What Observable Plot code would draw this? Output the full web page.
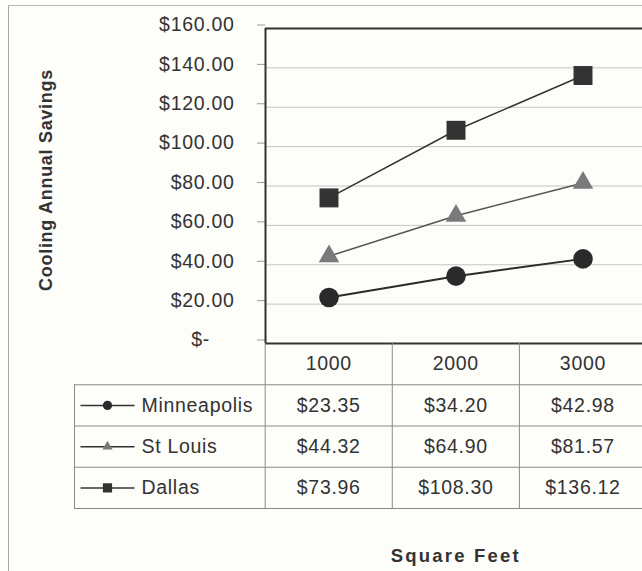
<!DOCTYPE html>
<html>
<head>
<meta charset="utf-8">
<script src="https://cdn.jsdelivr.net/npm/d3@7"></script>
<script src="https://cdn.jsdelivr.net/npm/@observablehq/plot@0.6"></script>
<style>
  html, body { margin: 0; padding: 0; background: #fdfdfa; }
  #wrap { position: relative; width: 642px; height: 571px; overflow: hidden; background: #fdfdfa; }
  #outer { position: absolute; left: 8px; top: 5px; width: 700px; height: 600px;
           border-left: 1.5px solid #a8a8a8; border-top: 1.5px solid #b8b8b8; }
  #chart { position: absolute; left: 0; top: 0; }
  #table { position: absolute; left: 0; top: 343px; }
  svg { overflow: visible; }
</style>
</head>
<body>
<div id="wrap">
  <div id="outer"></div>
  <div id="chart"></div>
  <div id="table"></div>
</div>
<script>
// ---- data ----
const sqft = [1000, 2000, 3000];
const seriesNames = ["Minneapolis", "St Louis", "Dallas"];
const minneapolis = [23.35, 34.20, 42.98];
const stLouis = [44.32, 64.90, 81.57];
const dallas = [73.96, 108.30, 136.12];
const yTicks = [0, 20, 40, 60, 80, 100, 120, 140, 160];
const yLabel = "Cooling Annual Savings";
const xLabel = "Square Feet";

// ---- derived ----
const seriesValues = [minneapolis, stLouis, dallas];
const rows = seriesNames.flatMap((name, k) =>
  seriesValues[k].map((v, i) => ({series: name, k, sqft: sqft[i], value: v})));
const step = sqft[1] - sqft[0];
const half = step / 2;
const money = v => "$" + v.toFixed(2);
const tickFmt = v => v === 0 ? "$-\u00a0\u00a0\u00a0\u00a0" : money(v);

const ink = "#333";
const symbols = ["circle", "triangle", "square"];
const fills = ["#2a2a2a", "#7a7a7a", "#333333"];
const lineStrokes = ["#2a2a2a", "#555", "#333"];
const dotR = [9.8, 7.6, 10.7];
const legendR = [4.6, 3.8, 5.2];

const font = {fontFamily: "'Liberation Sans', Arial, sans-serif", fontSize: "19.5px", letterSpacing: "0.7px", color: ink, background: "transparent"};

// ---- chart ----
const chartMarks = [
  Plot.gridY(yTicks.filter(t => t > 0 && t < 160), {stroke: "#c4c4c4", strokeOpacity: 1}),
  Plot.axisY({ticks: yTicks, tickFormat: tickFmt, tickSize: 8, tickPadding: 23, stroke: "#9a9a9a", fill: ink, dy: -3.5, label: null}),
  Plot.axisY({ticks: [], tickSize: 0, label: yLabel, labelAnchor: "center", labelOffset: 226, labelArrow: "none", fill: ink}),
  Plot.ruleY([0, 160], {stroke: ink, strokeWidth: 2}),
  Plot.ruleX([sqft[0] - half], {stroke: ink, strokeWidth: 2})
];
seriesNames.forEach((name, k) => {
  const data = rows.filter(d => d.k === k);
  chartMarks.push(Plot.line(data, {x: "sqft", y: "value", stroke: lineStrokes[k], strokeWidth: k === 0 ? 2 : 1.5}));
  chartMarks.push(Plot.dot(data, {x: "sqft", y: "value", symbol: symbols[k], r: dotR[k], fill: fills[k], stroke: "none"}));
});

const chart = Plot.plot({
  width: 642, height: 346,
  marginLeft: 265, marginRight: 0, marginTop: 28, marginBottom: 3,
  x: {type: "linear", domain: [sqft[0] - half, sqft[2] + half], range: [265, 646], axis: null},
  y: {domain: [0, 160], axis: null},
  style: font,
  marks: chartMarks
});
document.getElementById("chart").appendChild(chart);

// axis title styling
chart.querySelectorAll("g[aria-label='y-axis label']").forEach(g => {
  g.setAttribute("font-size", "18"); g.setAttribute("letter-spacing", "0.7"); g.setAttribute("font-weight", "bold");
  const t = g.getAttribute("transform") || "";
  g.setAttribute("transform", "translate(0,-6) " + t);
});

// ---- data table (below chart, shares x positions) ----
const lineSymbol = {draw(ctx) { ctx.moveTo(-27, 0); ctx.lineTo(27, 0); }};
const legendLeft = sqft[0] - 2 * step;
const tableMarks = [
  Plot.ruleY([1, 2, 3, 4], {stroke: "#8a8a8a", strokeWidth: 1}),
  Plot.ruleX(sqft.map(d => d - half), {y1: 0, y2: 4, stroke: "#8a8a8a", strokeWidth: 1}),
  Plot.ruleX([legendLeft], {y1: 1, y2: 4, stroke: "#8a8a8a", strokeWidth: 1}),
  Plot.text(sqft, {x: d => d, y: () => 0.5, text: d => String(d), fill: ink}),
  Plot.text(rows, {x: "sqft", y: d => d.k + 1.5, text: d => money(d.value), fill: ink}),
  Plot.text(seriesNames, {x: () => legendLeft, y: (d, k) => k + 1.5, dx: 67, textAnchor: "start", fill: ink}),
  Plot.dot(seriesNames, {x: () => legendLeft, y: (d, k) => k + 1.5, dx: 33, symbol: () => lineSymbol, stroke: ink, strokeWidth: 1.5, fill: "none"}),
  Plot.text([xLabel], {x: () => sqft[1], frameAnchor: "bottom", dy: 53, fontWeight: "bold", fontSize: 18.5, fill: ink, ariaLabel: "x-title"})
];
seriesNames.forEach((name, k) => {
  tableMarks.push(Plot.dot([name], {x: () => legendLeft, y: () => k + 1.5, dx: 33, symbol: symbols[k], r: legendR[k], fill: fills[k], stroke: "none"}));
});

const table = Plot.plot({
  width: 642, height: 228,
  marginLeft: 74, marginRight: 0, marginTop: 0, marginBottom: 63,
  x: {type: "linear", domain: [legendLeft, sqft[2] + half], range: [74, 646], axis: null},
  y: {type: "linear", domain: [0, 4], range: [0, 165], axis: null},
  style: font,
  marks: tableMarks
});
document.getElementById("table").appendChild(table);
table.querySelectorAll("text").forEach(t => {
  if (t.textContent === xLabel) t.setAttribute("letter-spacing", "2.2");
});
</script>
</body>
</html>
